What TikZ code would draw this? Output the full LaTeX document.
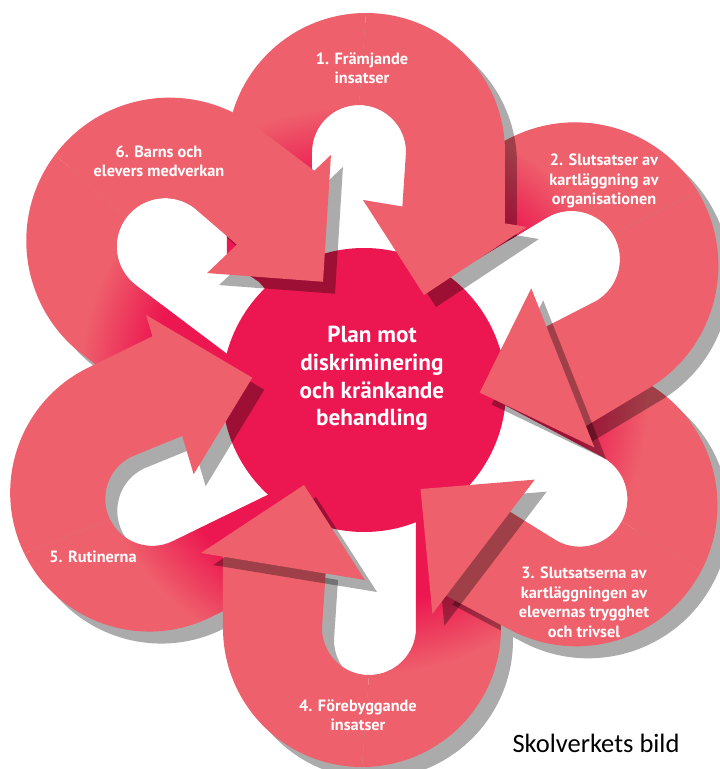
\documentclass[tikz,border=0pt]{standalone}
\usepackage{fontspec}
\setmainfont{PT Sans}
\newfontfamily\creditfont{Carlito}
\usepackage{tikz}
\definecolor{petalred}{RGB}{238,96,108}
\definecolor{coremagenta}{RGB}{236,23,80}
\definecolor{dropgray}{RGB}{171,171,171}
\pgfdeclareradialshading{legfade}{\pgfpointorigin}{color(0bp)=(coremagenta); color(13.4bp)=(coremagenta); color(17.8bp)=(petalred); color(50bp)=(petalred)}
\newcommand{\lefthalf}{(-137,130) -- (-137,238) arc[start angle=180,end angle=90,radius=139pt] -- (-5,285) arc[start angle=90,end angle=180,radius=47pt] -- (-52,110) -- (-80,80) -- (-105,108) -- cycle}
\newcommand{\righthalf}{(2,377) arc[start angle=90,end angle=0,radius=139pt] -- (141,160) -- (38,178) -- (42,238) arc[start angle=0,end angle=90,radius=47pt] -- cycle}
\newcommand{\arrowtip}{(-1,190) -- (163,163) -- (60,95) -- cycle}
\newcommand{\holearea}{(42,238) arc[start angle=0,end angle=180,radius=47pt] -- (-52,100) -- (42,100) -- cycle}

\begin{document}
\begin{tikzpicture}[x=1pt,y=1pt,
		steplabel/.style={text=white,align=center,font=\bfseries\fontsize{16.3}{19.5}\selectfont},
		coretext/.style={text=white,align=center,font=\bfseries\fontsize{23.2}{27.6}\selectfont},
		credit/.style={text=black,anchor=base,font=\creditfont\fontsize{26.5}{30}\selectfont}]
		\useasboundingbox (-364,-379) rectangle (356,390);
	
		\foreach \a/\s in {0/1,-59/1.03,-118/1.015,180/1,116/1,53/1.03}
			\fill[dropgray,shift={(12,-12)},rotate=\a,scale=\s] \lefthalf \righthalf;
		\foreach \a/\s in {0/1,-59/1.03,-118/1.015,53/1.03}
			\fill[white,rotate=\a,scale=\s] \holearea;
		\fill[coremagenta] (0,0) circle (142pt);
		\foreach \a/\s in {0/1,-59/1.03,-118/1.015,180/1,116/1,53/1.03}{
			\begin{scope}
				\clip[rotate=\a,scale=\s] \lefthalf;
				\shade[shading=legfade] (0,0) circle (400pt);
			\end{scope}}
		\foreach \a/\s/\b/\t in {0/1/-59/1.03,-59/1.03/-118/1.015,-118/1.015/180/1,180/1/116/1,116/1/53/1.03,53/1.03/0/1}{
			\begin{scope}
				\clip[rotate=\b,scale=\t] \lefthalf;
				\fill[black,opacity=.33,shift={(12,-12)},rotate=\a,scale=\s] \righthalf;
			\end{scope}
			\fill[petalred,rotate=\a,scale=\s] \righthalf;}
		\foreach \a/\s in {0/1,-59/1.03,-118/1.015,180/1,116/1,53/1.03}
			\fill[black,opacity=.33,shift={(12,-12)},rotate=\a,scale=\s] \arrowtip;
		\foreach \a/\s in {0/1,-59/1.03,-118/1.015,180/1,116/1,53/1.03}
			\fill[petalred,rotate=\a,scale=\s] \arrowtip;
	
		\node[coretext] (plan) at (8,11.5) {Plan mot\\diskriminering\\och kränkande\\behandling};
		\node[steplabel] (framjande) at (-2,322) {1. Främjande\\insatser};
		\node[steplabel] (organisation) at (240,209) {2. Slutsatser av\\kartläggning av\\organisationen};
		\node[steplabel] (trygghet) at (220,-212.5) {3. Slutsatserna av\\kartläggningen av\\elevernas trygghet\\och trivsel};
		\node[steplabel] (forebyggande) at (-6,-325) {4. Förebyggande\\insatser};
		\node[steplabel] (rutiner) at (-271,-167) {5. Rutinerna};
		\node[steplabel] (medverkan) at (-205,228.5) {6. Barns och\\elevers medverkan};
		\node[credit] (kalla) at (232,-362) {Skolverkets bild};
	
\end{tikzpicture}
\end{document}
